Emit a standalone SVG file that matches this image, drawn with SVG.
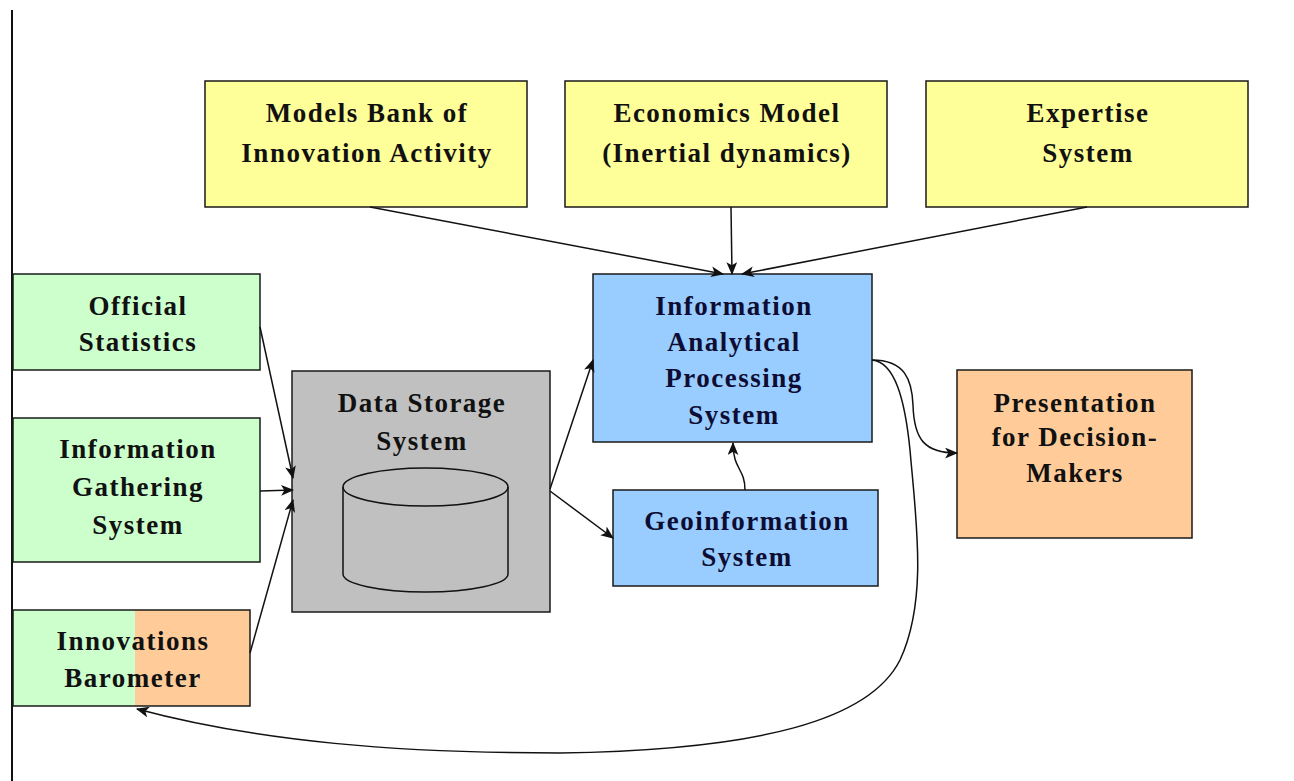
<svg xmlns="http://www.w3.org/2000/svg" width="1294" height="781" viewBox="0 0 1294 781">
  <style>
    .box { stroke: #1a1a1a; stroke-width: 1.5; }
    .yellow { fill: #FFFF99; }
    .green { fill: #CCFFCC; }
    .blue { fill: #99CCFF; }
    .orange { fill: #FFCC99; }
    .gray { fill: #C0C0C0; }
    .label { font-family: "Liberation Serif", "Times New Roman", serif; font-weight: bold; font-size: 27px; letter-spacing: 1.5px; fill: #111; text-anchor: middle; }
    .dark { fill: #0d0d33; }
    .conn { fill: none; stroke: #111; stroke-width: 1.5; marker-end: url(#arrow); }
  </style>
  <defs>
    <marker id="arrow" viewBox="0 0 12 10" refX="11" refY="5" markerWidth="13" markerHeight="11" markerUnits="userSpaceOnUse" orient="auto">
      <path d="M0,0 L12,5 L0,10 L3,5 Z" fill="#111"/>
    </marker>
  </defs>

  <rect width="1294" height="781" fill="#ffffff"/>
  <!-- page margin rule -->
  <line x1="12" y1="10" x2="12" y2="781" stroke="#111" stroke-width="2"/>

  <g id="models-bank">
    <rect class="box yellow" x="205" y="81" width="322" height="126"/>
    <text class="label" x="367" y="122">Models Bank of</text>
    <text class="label" x="367" y="162">Innovation Activity</text>
  </g>
  <g id="economics-model">
    <rect class="box yellow" x="565" y="81" width="322" height="126"/>
    <text class="label" x="727" y="122">Economics Model</text>
    <text class="label" x="727" y="162">(Inertial dynamics)</text>
  </g>
  <g id="expertise-system">
    <rect class="box yellow" x="926" y="81" width="322" height="126"/>
    <text class="label" x="1088" y="122">Expertise</text>
    <text class="label" x="1088" y="162">System</text>
  </g>

  <g id="official-statistics">
    <rect class="box green" x="13" y="274" width="247" height="96"/>
    <text class="label" x="138" y="315">Official</text>
    <text class="label" x="138" y="351">Statistics</text>
  </g>
  <g id="information-gathering">
    <rect class="box green" x="13" y="418" width="247" height="144"/>
    <text class="label" x="138" y="458">Information</text>
    <text class="label" x="138" y="496">Gathering</text>
    <text class="label" x="138" y="534">System</text>
  </g>
  <g id="innovations-barometer">
    <rect x="13" y="610" width="122" height="96" fill="#CCFFCC"/>
    <rect x="135" y="610" width="115" height="96" fill="#FFCC99"/>
    <rect x="13" y="610" width="237" height="96" fill="none" stroke="#1a1a1a" stroke-width="1.5"/>
    <text class="label" x="133" y="650">Innovations</text>
    <text class="label" x="133" y="687">Barometer</text>
  </g>

  <g id="data-storage">
    <rect class="box gray" x="292" y="371" width="258" height="241"/>
    <text class="label" x="422" y="412">Data Storage</text>
    <text class="label" x="422" y="450">System</text>
    <path d="M343,487 L343,574 A82.5,18 0 0 0 508,574 L508,487" fill="none" stroke="#111" stroke-width="1.5"/>
    <ellipse cx="425.5" cy="487" rx="82.5" ry="19" fill="none" stroke="#111" stroke-width="1.5"/>
  </g>

  <g id="analytical-processing">
    <rect class="box blue" x="593" y="274" width="279" height="168"/>
    <text class="label dark" x="734" y="315">Information</text>
    <text class="label dark" x="734" y="351">Analytical</text>
    <text class="label dark" x="734" y="387">Processing</text>
    <text class="label dark" x="734" y="424">System</text>
  </g>
  <g id="geoinformation">
    <rect class="box blue" x="613" y="490" width="265" height="96"/>
    <text class="label dark" x="747" y="530">Geoinformation</text>
    <text class="label dark" x="747" y="566">System</text>
  </g>
  <g id="presentation">
    <rect class="box orange" x="957" y="370" width="235" height="168"/>
    <text class="label" x="1075" y="412">Presentation</text>
    <text class="label" x="1075" y="446">for Decision-</text>
    <text class="label" x="1075" y="482">Makers</text>
  </g>

  <g id="connectors">
    <path class="conn" d="M370,207 L723,274"/>
    <path class="conn" d="M731,207 L732,274"/>
    <path class="conn" d="M1087,207 L742,274"/>
    <path class="conn" d="M260,327 L293,478"/>
    <path class="conn" d="M260,491 L293,490"/>
    <path class="conn" d="M250,653 L293,500"/>
    <path class="conn" d="M550,489 L593,360"/>
    <path class="conn" d="M550,491 L613,538"/>
    <path class="conn" d="M745,490 C745,468 733,470 733,443"/>
    <path class="conn" d="M872,360 C905,360 912,380 913,405 C914,440 925,453 957,453"/>
    <path class="conn" d="M872,360 C895,362 905,400 910,450 C916,520 928,600 900,660 C870,720 760,750 560,753 C400,753 260,742 137,709"/>
  </g>
</svg>
